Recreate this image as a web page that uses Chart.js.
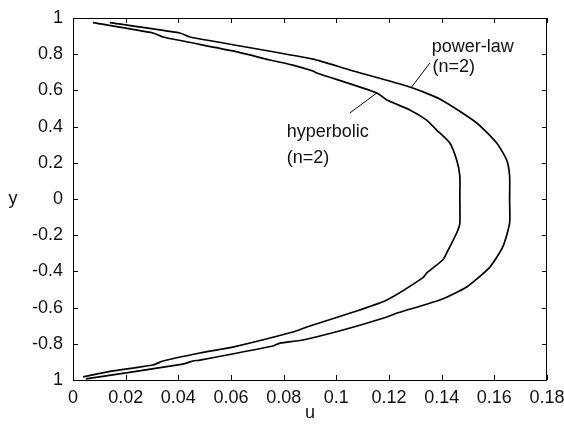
<!DOCTYPE html>
<html>
<head>
<meta charset="utf-8">
<script src="https://cdn.jsdelivr.net/npm/chart.js@4/dist/chart.umd.min.js"></script>
<style>
  html, body { margin: 0; padding: 0; background: #fff; }
  #wrap { width: 564px; height: 426px; }
</style>
</head>
<body>
<div id="wrap"><canvas id="profileChart" width="564" height="426"></canvas></div>
<script>
// velocity profiles u(y)
const powerLawU = [0.0140, 0.0406, 0.0444, 0.0911, 0.1051, 0.1279, 0.1393, 0.1533, 0.1609, 0.1647, 0.1658, 0.1658,
                   0.1658, 0.1632, 0.1583, 0.1495, 0.1393, 0.1230, 0.1192, 0.1025, 0.0873, 0.0786, 0.0759, 0.0482, 0.0455, 0.0417, 0.0049];
const powerLawY = [0.974, 0.917, 0.895, 0.773, 0.713, 0.619, 0.552, 0.420, 0.309, 0.215, 0.127, 0.0,
                   -0.133, -0.265, -0.376, -0.486, -0.558, -0.630, -0.652, -0.724, -0.779, -0.796, -0.812, -0.890, -0.895, -0.912, -0.994];

const hyperbolicU = [0.0076, 0.0304, 0.0342, 0.0607, 0.0748, 0.0835, 0.0911, 0.0926, 0.1154, 0.1192, 0.1279, 0.1343, 0.1381, 0.1431, 0.1457, 0.1469, 0.1469,
                     0.1469, 0.1457, 0.1419, 0.1404, 0.1343, 0.1328, 0.1192, 0.1089, 0.0888, 0.0835, 0.0607, 0.0482, 0.0342, 0.0304, 0.0152, 0.0038];
const hyperbolicY = [0.974, 0.917, 0.895, 0.818, 0.768, 0.740, 0.707, 0.696, 0.586, 0.547, 0.492, 0.436, 0.381, 0.309, 0.215, 0.127, 0.0,
                     -0.133, -0.188, -0.298, -0.337, -0.409, -0.436, -0.558, -0.613, -0.707, -0.735, -0.818, -0.851, -0.895, -0.917, -0.950, -0.983];

// tick labels (y from bottom to top, as printed in the figure)
const xTickLabels = ['0', '0.02', '0.04', '0.06', '0.08', '0.1', '0.12', '0.14', '0.16', '0.18'];
const yTickLabels = ['1', '-0.8', '-0.6', '-0.4', '-0.2', '0', '0.2', '0.4', '0.6', '0.8', '1'];

// curve labels and their leader lines (data coordinates)
const noteTexts = ['power-law', '(n=2)', 'hyperbolic', '(n=2)'];
const noteU = [0.1362, 0.1365, 0.0812, 0.0812];
const noteY = [0.840, 0.727, 0.370, 0.229];
const powerLeaderU = [0.1355, 0.1286];
const powerLeaderY = [0.751, 0.619];
const hyperLeaderU = [0.1051, 0.1154];
const hyperLeaderY = [0.475, 0.586];

const FONT = '18px "Liberation Sans", Arial, sans-serif';
const zip = (us, ys) => us.map((u, i) => ({ x: u, y: ys[i] }));

const curveStyle = { showLine: true, borderColor: '#000', borderWidth: 1.7, pointRadius: 0, fill: false, tension: 0.2 };
const leaderStyle = { showLine: true, borderColor: '#000', borderWidth: 1, pointRadius: 0, fill: false };

const framePlugin = {
  id: 'framePlugin',
  afterDraw(chart) {
    const { ctx, chartArea: a, scales: { x, y } } = chart;
    ctx.save();
    ctx.strokeStyle = '#000';
    ctx.lineWidth = 1;
    ctx.strokeRect(a.left + 0.5, a.top + 0.5, a.right - a.left - 1, a.bottom - a.top);
    const len = 5;
    ctx.beginPath();
    x.ticks.forEach((t, i) => {
      const px = Math.round(x.getPixelForTick(i)) + 0.5;
      ctx.moveTo(px, a.bottom); ctx.lineTo(px, a.bottom - len);
      ctx.moveTo(px, a.top); ctx.lineTo(px, a.top + len);
    });
    y.ticks.forEach((t, i) => {
      const py = Math.round(y.getPixelForTick(i)) + 0.5;
      ctx.moveTo(a.left, py); ctx.lineTo(a.left + len, py);
      ctx.moveTo(a.right, py); ctx.lineTo(a.right - len, py);
    });
    ctx.stroke();

    ctx.fillStyle = '#111';
    ctx.font = FONT;
    ctx.textAlign = 'left';
    ctx.textBaseline = 'middle';
    noteTexts.forEach((txt, i) => {
      ctx.fillText(txt, x.getPixelForValue(noteU[i]), y.getPixelForValue(noteY[i]));
    });

    // axis titles
    ctx.textAlign = 'center';
    ctx.fillText('u', (a.left + a.right) / 2, 413);
    ctx.fillText('y', 13, (a.top + a.bottom) / 2);
    ctx.restore();
  }
};

new Chart(document.getElementById('profileChart'), {
  type: 'scatter',
  data: {
    datasets: [
      { label: 'power-law (n=2)', data: zip(powerLawU, powerLawY), ...curveStyle },
      { label: 'hyperbolic (n=2)', data: zip(hyperbolicU, hyperbolicY), ...curveStyle },
      { label: 'leader 1', data: zip(powerLeaderU, powerLeaderY), ...leaderStyle },
      { label: 'leader 2', data: zip(hyperLeaderU, hyperLeaderY), ...leaderStyle }
    ]
  },
  options: {
    responsive: false,
    animation: false,
    layout: { padding: { left: 0, top: 18, right: 17, bottom: 0 } },
    plugins: { legend: { display: false }, tooltip: { enabled: false } },
    scales: {
      x: {
        type: 'linear', min: 0, max: 0.18,
        grid: { display: false, drawTicks: false },
        border: { display: false },
        ticks: {
          stepSize: 0.02, padding: 7, color: '#111',
          font: { family: '"Liberation Sans", Arial, sans-serif', size: 18 },
          maxRotation: 0, autoSkip: false,
          callback: (v, i) => xTickLabels[i]
        },
        afterFit(scale) { scale.height = 46; scale.paddingLeft = 0; scale.paddingRight = 0; }
      },
      y: {
        type: 'linear', min: -1, max: 1,
        grid: { display: false, drawTicks: false },
        border: { display: false },
        ticks: {
          stepSize: 0.2, padding: 10, color: '#111',
          font: { family: '"Liberation Sans", Arial, sans-serif', size: 18 },
          autoSkip: false,
          callback: (v, i) => yTickLabels[i]
        },
        afterFit(scale) { scale.width = 73; scale.paddingTop = 0; scale.paddingBottom = 0; }
      }
    }
  },
  plugins: [framePlugin]
});
</script>
</body>
</html>
